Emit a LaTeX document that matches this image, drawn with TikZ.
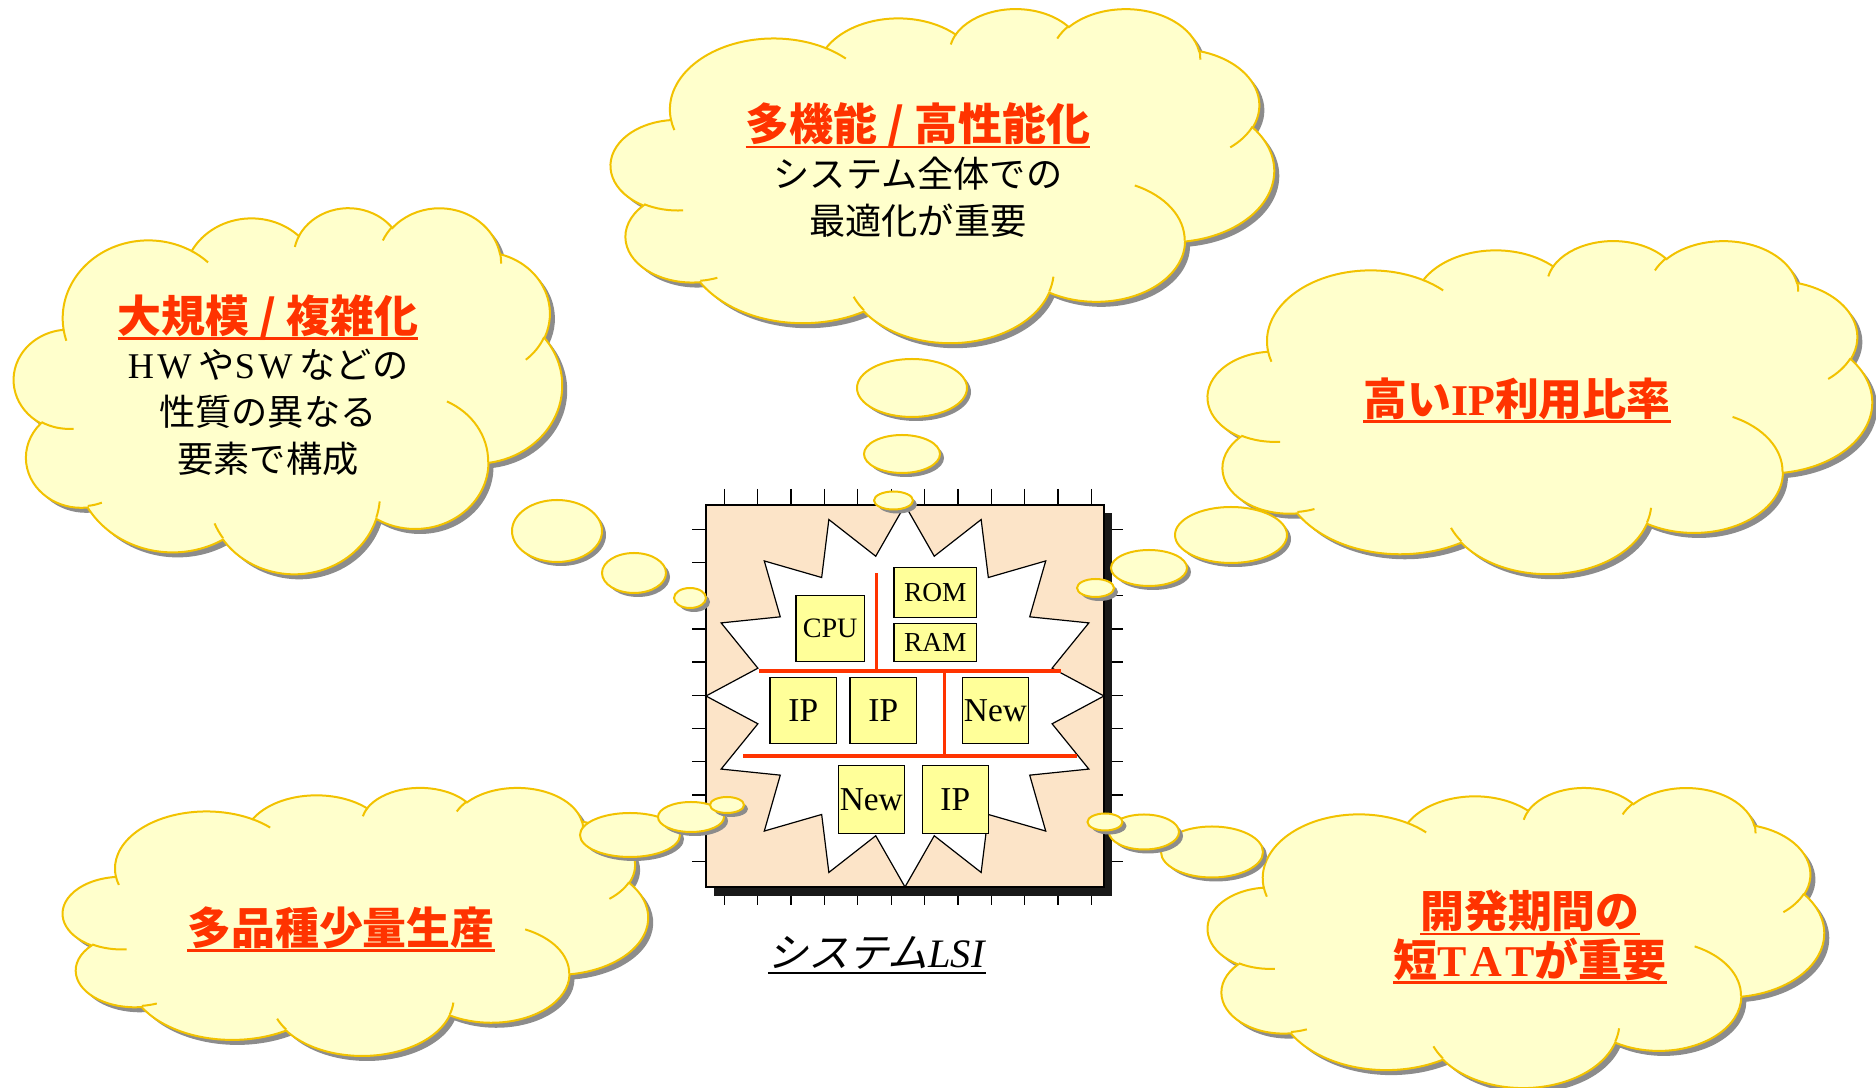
\documentclass[tikz,border=0pt]{standalone}
\usepackage{fontspec}
\setmainfont{Liberation Serif}
\newfontfamily\jp{Noto Sans CJK JP}
\newfontfamily\jpsl{Noto Sans CJK JP}[FakeSlant=0.25]
\definecolor{cloudfill}{HTML}{FFFFCC}
\definecolor{cloudedge}{HTML}{F2C200}
\definecolor{puffshadow}{HTML}{8C8C8C}
\definecolor{chipfill}{HTML}{FCE4C8}
\definecolor{blkfill}{HTML}{FFFF99}
\definecolor{hotred}{HTML}{FF3300}

% elliptic lobe: x radius, y radius, start angle, sweep (angles seen from the centre)
\newcommand\puff[4]{arc[x radius=#1,y radius=#2,start angle={atan2(#1*sin(#3),#2*cos(#3))},delta angle={mod(atan2(#1*sin(#3+#4),#2*cos(#3+#4))-atan2(#1*sin(#3),#2*cos(#3))+720,360)}]}
% cloud outline in a 432 x 432 box
\newcommand\cloudpath{(39,143.7)
  \puff{67.53}{91.9}{-190.4875}{123.7805}
  \puff{53.33}{72.67}{-144.1024}{89.9452}
  \puff{43.65}{59.45}{-145.8079}{99.723}
  \puff{48.57}{65.95}{-130.9861}{117.2417}
  \puff{53.33}{72.73}{-78.7089}{109.0269}
  \puff{67.75}{92.2}{-46.2673}{130.269}
  \puff{57.85}{78.67}{0.625}{114.0333}
  \puff{67.52}{92.15}{22.4516}{115.1726}
  \puff{77.2}{105.43}{66.2426}{75.711}
  \puff{43.6}{59.18}{-274.9421}{146.7356}
  \puff{43.45}{59.45}{-246.8285}{152.5189}--cycle}
% short inner strokes between the lobes
\newcommand\cloudcreases{(46.93,261.77)\puff{43.45}{59.45}{86.742}{26.4295}
  (69.28,348.99)\puff{43.6}{59.18}{73.6105}{11.4475}
  (164.78,390.9)\puff{67.52}{92.15}{137.6242}{14.0811}
  (288.27,347.51)\puff{67.52}{92.15}{6.4533}{15.9984}
  (341.29,229.54)\puff{57.85}{78.67}{-70.2924}{70.9174}
  (417.98,153.54)\puff{53.33}{72.73}{30.318}{27.7515}
  (383.24,54.26)\puff{48.57}{65.95}{-13.7443}{14.8589}
  (290.78,39.52)\puff{48.57}{65.95}{-149.1815}{18.1954}
  (221.41,47.2)\puff{43.65}{59.45}{-163.4943}{17.6864}
  (140,51.92)\puff{67.53}{91.9}{-66.707}{12.3194}
  (41.27,157.89)\puff{67.53}{91.9}{157.6544}{11.8582}}
% left, top, width, height
\newcommand\cloud[4]{%
  \fill[puffshadow,shift={(#1+5,#2+5)},xscale=#3/432,yscale=#4/432]\cloudpath;
  \filldraw[cloudbody,shift={(#1,#2)},xscale=#3/432,yscale=#4/432]\cloudpath;
  \draw[cloudline,shift={(#1,#2)},xscale=#3/432,yscale=#4/432]\cloudcreases;}
% centre x, centre y, x radius, y radius
\newcommand\bubble[4]{%
  \fill[puffshadow](#1+4,#2+4)ellipse[x radius=#3,y radius=#4];
  \filldraw[cloudbody](#1,#2)ellipse[x radius=#3,y radius=#4];}
% heavier underline, close under the glyphs
\newcommand\ul[1]{\setbox0\hbox{#1}\leavevmode\rlap{\rule[-0.17em]{\wd0}{0.055em}}\box0}

\begin{document}
\begin{tikzpicture}[x=0.1mm,y=-0.1mm,
    cloudbody/.style={fill=cloudfill,draw=cloudedge,line width=0.2mm},
    cloudline/.style={draw=cloudedge,line width=0.2mm},
    leg/.style={line width=0.13mm},
    bus/.style={hotred,line width=0.35mm},
    blk/.style={draw,fill=blkfill,line width=0.13mm,inner sep=0pt,font=\fontsize{9.5}{11}\selectfont},
    say/.style={align=center,font=\jp\fontsize{10.3}{13.3}\selectfont},
    head/.style={align=center,text=hotred,font=\jp\bfseries\fontsize{12.5}{13.7}\selectfont}]
    \useasboundingbox(0,0)rectangle(1876,1088);

    % chip with pins, shadow and core
    \foreach\i in{0,...,11}\draw[leg](724.3+33.37*\i,489)--(724.3+33.37*\i,905);
    \foreach\i in{0,...,10}\draw[leg](692,529.3+33.2*\i)--(1123,529.3+33.2*\i);
    \fill[black!90](714,513)rectangle(1112,896);
    \filldraw[fill=chipfill,draw=black,line width=0.13mm](706,505)rectangle(1104,887);
    \draw[fill=white,line width=0.12mm]plot[samples at={0,...,31}]({905+(isodd(\x)?150:199)*sin(\x*11.25)},{696-(isodd(\x)?142.5:191)*cos(\x*11.25)})--cycle;
    \draw[bus](876.7,573.3)--(876.7,671);
    \draw[bus](759.3,671)--(1060.7,671);
    \draw[bus](944.3,671)--(944.3,756);
    \draw[bus](743.3,756)--(1076.7,756);
    \node[blk,minimum width=6.83mm,minimum height=6.6mm,font=\fontsize{8}{10}\selectfont](cpu)at(830.2,628.7){CPU};
    \node[blk,minimum width=8.27mm,minimum height=4.96mm,font=\fontsize{7.8}{10}\selectfont](rom)at(935.3,592.5){ROM};
    \node[blk,minimum width=8.27mm,minimum height=3.8mm,font=\fontsize{7.8}{10}\selectfont](ram)at(935.3,642.7){RAM};
    \node[blk,minimum width=6.67mm,minimum height=6.56mm](ip1)at(803.3,710.5){IP};
    \node[blk,minimum width=6.67mm,minimum height=6.56mm](ip2)at(883.3,710.5){IP};
    \node[blk,minimum width=6.64mm,minimum height=6.56mm](new1)at(995.5,710.5){New};
    \node[blk,minimum width=6.6mm,minimum height=6.76mm](new2)at(871.3,799.5){New};
    \node[blk,minimum width=6.6mm,minimum height=6.76mm](ip3)at(955.3,799.5){IP};
    \node[font=\fontsize{11.5}{13}\selectfont](lsi)at(877,955){\ul{{\jpsl システム}\textit{LSI}}};

    % thought clouds
    \cloud{14}{207}{548}{366}
    \bubble{557}{531}{45}{31}\bubble{634}{573}{32}{20}\bubble{690}{598}{16}{10}
    \cloud{611}{8}{663}{334}
    \bubble{912}{388}{55}{29}\bubble{902}{454}{38}{19}\bubble{893.5}{500.5}{19.5}{9}
    \cloud{1208}{240}{664}{333}
    \bubble{1231}{535}{56}{28}\bubble{1149}{568}{38}{18}\bubble{1095.5}{588}{18.5}{9}
    \cloud{63}{787}{585}{268}
    \bubble{630}{835}{50}{22}\bubble{691}{817}{33}{15}\bubble{727}{805}{17}{8}
    \cloud{1208}{787}{616}{300}
    \bubble{1212}{852}{51}{25.5}\bubble{1144}{832}{35}{17.5}\bubble{1105}{822}{17.5}{8.5}

    \node[say](scale)at(268,385){{\fontsize{12.5}{13.3}\selectfont\bfseries\color{hotred}\ul{大規模 / 複雑化}}\\{\rmfamily H\kern1pt W\kern2pt}や{\rmfamily S\kern1pt W\kern2pt}などの\\性質の異なる\\要素で構成};
    \node[say](perf)at(918,170){{\fontsize{12.5}{13.3}\selectfont\bfseries\color{hotred}\ul{多機能 / 高性能化}}\\システム全体での\\最適化が重要};
    \node[head](reuse)at(1517,400){\ul{高い{\rmfamily IP}利用比率}};
    \node[head](variety)at(341,929){\ul{多品種少量生産}};
    \node[head](tat)at(1530,937){\ul{開発期間の}\\\ul{短{\rmfamily T\kern1pt A\kern1pt T}が重要}};
\end{tikzpicture}
\end{document}
